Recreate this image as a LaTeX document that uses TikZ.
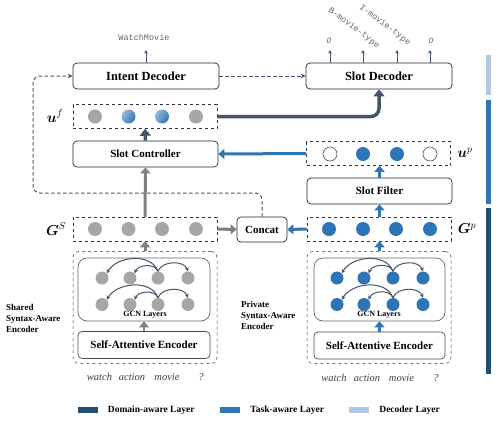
\documentclass[tikz,border=0pt]{standalone}
\usepackage{bm}
\usepackage{fontspec}
\setmainfont{Liberation Serif}
\setmonofont{Liberation Mono}
\usepackage{tikz}
\usetikzlibrary{arrows.meta,positioning,calc}
\definecolor{mynavy}{RGB}{31,78,121}
\definecolor{myblue}{RGB}{46,117,182}
\definecolor{mylightblue}{RGB}{180,199,231}
\definecolor{myslate}{RGB}{68,84,106}
\definecolor{mygray}{RGB}{166,166,166}
\definecolor{mydarkgray}{RGB}{128,128,128}

\begin{document}
\begin{tikzpicture}[
  x=1pt,
  y=-1pt,
  mybox/.style={
    draw=black!85,
    line width=0.7pt,
    rounded corners=4pt,
    minimum width=#1,
    minimum height=26pt,
    inner sep=0pt,
    font=\fontsize{11}{13}\selectfont\bfseries
  },
  mybigbox/.style={
    mybox=#1,
    font=\fontsize{12.4}{14}\selectfont\bfseries
  },
  myrow/.style={
    draw=black!80,
    dashed,
    line width=0.5pt,
    minimum width=144pt,
    minimum height=24pt,
    inner sep=0pt
  },
  myenc/.style={
    draw=black!80,
    dashed,
    line width=0.5pt,
    rounded corners=6pt,
    minimum width=144pt,
    minimum height=112pt,
    inner sep=0pt
  },
  mygcn/.style={
    draw=black!60,
    line width=0.7pt,
    rounded corners=9pt,
    minimum width=132pt,
    minimum height=63pt,
    inner sep=0pt
  },
  graydot/.style={circle, fill=mygray, minimum size=14pt, inner sep=0pt},
  bluedot/.style={circle, fill=myblue, minimum size=14pt, inner sep=0pt},
  opendot/.style={circle, draw=myslate, line width=0.6pt, fill=white, minimum size=14pt, inner sep=0pt},
  graddot/.style={circle, left color=myblue!50!white, right color=myblue, shading angle=60, minimum size=14pt, inner sep=0pt},
  gcndot/.style={circle, fill=#1, minimum size=13pt, inner sep=0pt},
  gcnarrow/.style={-{Stealth[length=4pt,width=4pt]}, myslate, line width=1pt},
  grayarrow/.style={-{Triangle[length=6pt,width=10pt]}, mydarkgray, line width=3pt},
  bluearrow/.style={-{Triangle[length=6pt,width=10pt]}, myblue, line width=3pt},
  slatearrow/.style={-{Triangle[length=7pt,width=11pt]}, myslate, line width=3.5pt},
  dasharrow/.style={-{Stealth[length=5pt,width=4.5pt]}, myslate, dash pattern=on 3.5pt off 2.5pt, line width=1pt},
  outarrow/.style={-{Stealth[length=3.5pt,width=3.5pt]}, myslate, line width=0.8pt},
  vlabel/.style={font=\fontsize{14}{16}\selectfont},
  outtext/.style={font=\fontsize{8.5}{10}\selectfont\ttfamily, text=black!60, inner sep=0pt},
  wordtext/.style={font=\fontsize{10.5}{12}\selectfont\itshape, text=black!75, inner sep=0pt},
  enctext/.style={font=\fontsize{9}{11}\selectfont\bfseries, align=left, anchor=west, inner sep=0pt},
  legbar/.style={minimum width=20pt, minimum height=6pt, inner sep=0pt},
  legtext/.style={font=\fontsize{9.5}{11}\selectfont\bfseries, inner sep=0pt}
]

\useasboundingbox (0,0) rectangle (499,424);

\node[mybigbox=146pt] (intent) at (146,76) {Intent Decoder};
\node[mybigbox=146pt] (slotdec) at (379,76) {Slot Decoder};
\node[myrow] (uf) at (145,116.5) {};
\node[mybox=145pt] (slotctrl) at (145.5,154) {Slot Controller};
\node[myrow] (up) at (378.5,153.5) {};
\node[mybox=145pt] (filter) at (379.5,191) {Slot Filter};
\node[myrow] (gs) at (145,229) {};
\node[myrow] (gp) at (379,229) {};
\node[mybox=50pt, minimum height=25pt] (concat) at (262,229.5) {Concat};

\node[myenc] (senc) at (145,307.5) {};
\node[mygcn] (sgcn) at (144,289.5) {};
\node[mybox=132pt, minimum height=27pt, draw=black!70] (ssae) at (144,345) {Self-Attentive Encoder};
\node[myenc] (penc) at (379,307.5) {};
\node[mygcn, minimum width=131pt] (pgcn) at (379.5,289.5) {};
\node[mybox=131pt, minimum height=27pt, draw=black!70] (psae) at (379.5,345.5) {Self-Attentive Encoder};

\foreach \k/\xx in {1/95,2/128.5,3/162,4/196}
  \node[graydot] (gs\k) at (\xx,229) {};
\foreach \k/\xx in {1/329,2/363,3/396,4/430}
  \node[bluedot] (gp\k) at (\xx,229) {};
\node[graydot] (uf1) at (95,116.5) {};
\node[graddot] (uf2) at (128.5,116.5) {};
\node[graddot] (uf3) at (162,116.5) {};
\node[graydot] (uf4) at (196,116.5) {};
\node[opendot] (up1) at (330,154) {};
\node[bluedot] (up2) at (363,154) {};
\node[bluedot] (up3) at (397,154) {};
\node[opendot] (up4) at (430,154) {};

\foreach \r/\yy in {a/278,b/304.5} {
  \foreach \k/\xx in {1/102,2/130,3/158,4/188}
    \node[gcndot=mygray] (s\r\k) at (\xx,\yy) {};
  \foreach \k/\xx in {1/337,2/364,3/393,4/423}
    \node[gcndot=myblue] (p\r\k) at (\xx,\yy) {};
  \draw[gcnarrow] (s\r3.north) to[out=110,in=60] (s\r1.north east);
  \draw[gcnarrow] (s\r3.north) to[out=110,in=70] (s\r2.north east);
  \draw[gcnarrow] (s\r3.north) to[out=70,in=110] (s\r4.north);
  \draw[gcnarrow] (p\r3.north) to[out=110,in=60] (p\r1.north east);
  \draw[gcnarrow] (p\r3.north) to[out=110,in=70] (p\r2.north east);
  \draw[gcnarrow] (p\r3.north) to[out=70,in=110] (p\r4.north);
}
\node[font=\fontsize{8}{9}\selectfont\bfseries, inner sep=0pt] (sgcnl) at (145,315) {GCN Layers};
\node[font=\fontsize{8}{9}\selectfont\bfseries, inner sep=0pt] (pgcnl) at (379,315) {GCN Layers};

\node[vlabel] (ufl) at (55,116) {$\bm{u}^{f}$};
\node[vlabel] (upl) at (465,153) {$\bm{u}^{p}$};
\node[vlabel] (gsl) at (56,229) {$\bm{G}^{S}$};
\node[vlabel] (gpl) at (467,229) {$\bm{G}^{p}$};

\node[enctext] (sencl) at (6,318) {Shared\\Syntax-Aware\\Encoder};
\node[enctext] (pencl) at (241,315.5) {Private\\Syntax-Aware\\Encoder};

\foreach \w/\xx [count=\k] in {watch/99.5,action/132,movie/167,?/201}
  \node[wordtext] (sw\k) at (\xx,377) {\w};
\foreach \w/\xx [count=\k] in {watch/334,action/367,movie/401.5,?/436}
  \node[wordtext] (pw\k) at (\xx,378) {\w};

\coordinate (iout) at (146,50);
\draw[outarrow] (intent.north) -- (iout);
\node[outtext] (ioutl) at (144,37) {WatchMovie};
\foreach \k/\xx in {1/330,2/363,3/397,4/430} {
  \coordinate (sout\k) at (\xx,50);
  \draw[outarrow] (slotdec.north -| sout\k) -- (sout\k);
}
\node[outtext, font=\fontsize{8}{9}\selectfont\ttfamily\itshape] (soutl1) at (329,41) {O};
\node[outtext, rotate=-37] (soutl2) at (354,28) {B-movie-type};
\node[outtext, rotate=-37] (soutl3) at (385,25) {I-movie-type};
\node[outtext, font=\fontsize{8}{9}\selectfont\ttfamily\itshape] (soutl4) at (431,41) {O};

\draw[dasharrow] (intent.east) -- (slotdec.west);
\draw[dasharrow, rounded corners=7pt] (concat.north) |- (33,193) |- (intent.west);
\draw[slatearrow, rounded corners=8pt] (uf.east) -| (slotdec.south);
\draw[slatearrow] (slotctrl.north) -- (uf.south);
\draw[grayarrow] (gs.north) -- (slotctrl.south);
\draw[grayarrow] (gs.east) -- (concat.west);
\draw[grayarrow] (senc.north) -- (gs.south);
\draw[grayarrow, line width=2.5pt] (ssae.north) -- (sgcn.south);
\draw[bluearrow] (up.west) -- (slotctrl.east);
\draw[bluearrow] (gp.west) -- (concat.east);
\draw[bluearrow] (filter.north) -- (filter.north |- up.south);
\draw[bluearrow] (gp.north -| filter.south) -- (filter.south);
\draw[bluearrow] (penc.north -| filter.south) -- (filter.south |- gp.south);
\draw[bluearrow, line width=2.5pt] (psae.north) -- (pgcn.south);

\fill[mylightblue] (486,55) rectangle (491,95);
\fill[myblue] (486,100) rectangle (491,204);
\fill[mynavy] (486,208) rectangle (491,374);

\node[legbar, fill=mynavy] (leg1) at (87.5,410) {};
\node[legtext, right=10pt of leg1] (legt1) {Domain-aware Layer};
\node[legbar, fill=myblue] (leg2) at (230,410) {};
\node[legtext, right=10pt of leg2] (legt2) {Task-aware Layer};
\node[legbar, fill=mylightblue] (leg3) at (359,410) {};
\node[legtext, right=10pt of leg3] (legt3) {Decoder Layer};

\end{tikzpicture}
\end{document}
